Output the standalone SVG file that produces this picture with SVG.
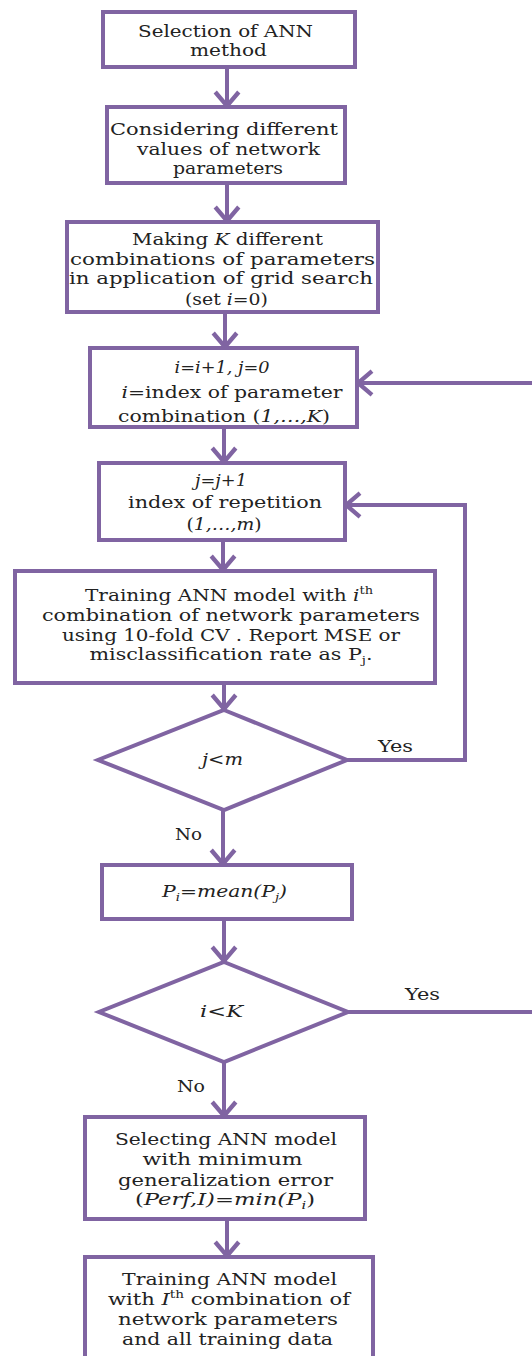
<svg xmlns="http://www.w3.org/2000/svg" width="532" height="1356" viewBox="0 0 532 1356">
<style>
.box{fill:#fff;stroke:#8064A2;stroke-width:4}
.ln{fill:none;stroke:#8064A2;stroke-width:4}
text{font-family:"DejaVu Serif","Liberation Serif",serif;font-size:17px;fill:#222;text-anchor:middle}
.it{font-style:italic}
.sm{font-size:11px}
</style>
<defs>
<marker id="ah" markerUnits="userSpaceOnUse" markerWidth="30" markerHeight="30" viewBox="-16 -14 20 28" refX="1" refY="0" orient="auto">
<path d="M -13 -11 L 0 0 L -13 11" fill="none" stroke="#8064A2" stroke-width="4"/>
</marker>
</defs>
<rect width="532" height="1356" fill="#fff"/>
<g id="connectors">
<path class="ln" d="M 227 67 V 107" marker-end="url(#ah)"/>
<path class="ln" d="M 227 183 V 222" marker-end="url(#ah)"/>
<path class="ln" d="M 225 312 V 348" marker-end="url(#ah)"/>
<path class="ln" d="M 224 427 V 463" marker-end="url(#ah)"/>
<path class="ln" d="M 223 540 V 571" marker-end="url(#ah)"/>
<path class="ln" d="M 224 683 V 710" marker-end="url(#ah)"/>
<path class="ln" d="M 223 810 V 865" marker-end="url(#ah)"/>
<path class="ln" d="M 224 919 V 962" marker-end="url(#ah)"/>
<path class="ln" d="M 224 1062 V 1117" marker-end="url(#ah)"/>
<path class="ln" d="M 227 1219 V 1257" marker-end="url(#ah)"/>
<path class="ln" d="M 347 760 H 465 V 505 H 345" marker-end="url(#ah)"/>
<path class="ln" d="M 348 1012 H 545 V 383 H 357" marker-end="url(#ah)"/>
<text x="395.5" y="752" textLength="35" lengthAdjust="spacingAndGlyphs">Yes</text>
<text x="188.5" y="840" textLength="27" lengthAdjust="spacingAndGlyphs">No</text>
<text x="422.5" y="1000" textLength="35" lengthAdjust="spacingAndGlyphs">Yes</text>
<text x="191" y="1092" textLength="28" lengthAdjust="spacingAndGlyphs">No</text>
</g>
<g id="n1">
<rect class="box" x="103" y="12" width="252" height="55"/>
<text x="225.5" y="37" textLength="175" lengthAdjust="spacingAndGlyphs">Selection of ANN</text>
<text x="228.5" y="56" textLength="77" lengthAdjust="spacingAndGlyphs">method</text>
</g>
<g id="n2">
<rect class="box" x="107" y="107" width="238" height="76"/>
<text x="224" y="135" textLength="228" lengthAdjust="spacingAndGlyphs">Considering different</text>
<text x="228.5" y="155" textLength="183" lengthAdjust="spacingAndGlyphs">values of network</text>
<text x="228" y="174" textLength="110" lengthAdjust="spacingAndGlyphs">parameters</text>
</g>
<g id="n3">
<rect class="box" x="67" y="222" width="311" height="90"/>
<text x="227.5" y="245" textLength="191" lengthAdjust="spacingAndGlyphs">Making <tspan class="it">K</tspan> different</text>
<text x="222.5" y="265" textLength="305" lengthAdjust="spacingAndGlyphs">combinations of parameters</text>
<text x="221" y="284" textLength="304" lengthAdjust="spacingAndGlyphs">in application of grid search</text>
<text x="226.5" y="305" textLength="83" lengthAdjust="spacingAndGlyphs">(set <tspan class="it">i</tspan>=0)</text>
</g>
<g id="n4">
<rect class="box" x="90" y="348" width="267" height="79"/>
<text class="it" x="222" y="373" textLength="95" lengthAdjust="spacingAndGlyphs">i=i+1, j=0</text>
<text x="232" y="398" textLength="221" lengthAdjust="spacingAndGlyphs"><tspan class="it">i</tspan>=index of parameter</text>
<text x="224" y="422" textLength="212" lengthAdjust="spacingAndGlyphs">combination (<tspan class="it">1,…,K</tspan>)</text>
</g>
<g id="n5">
<rect class="box" x="99" y="463" width="246" height="77"/>
<text class="it" x="221" y="486" textLength="52" lengthAdjust="spacingAndGlyphs">j=j+1</text>
<text x="225" y="508" textLength="194" lengthAdjust="spacingAndGlyphs">index of repetition</text>
<text x="224" y="530" textLength="75" lengthAdjust="spacingAndGlyphs">(<tspan class="it">1,…,m</tspan>)</text>
</g>
<g id="n6">
<rect class="box" x="15" y="571" width="420" height="112"/>
<text x="229" y="601" textLength="288" lengthAdjust="spacingAndGlyphs">Training ANN model with <tspan class="it">i</tspan><tspan class="sm" dy="-7">th</tspan></text>
<text x="231" y="621" textLength="378" lengthAdjust="spacingAndGlyphs">combination of network parameters</text>
<text x="231" y="641" textLength="338" lengthAdjust="spacingAndGlyphs">using 10-fold CV . Report MSE or</text>
<text x="231" y="660" textLength="283" lengthAdjust="spacingAndGlyphs">misclassification  rate as P<tspan class="sm" dy="4">j</tspan><tspan dy="-4">.</tspan></text>
</g>
<g id="d1">
<polygon class="box" points="224,710 347,760 224,810 98,760"/>
<text class="it" x="222.5" y="765" textLength="41" lengthAdjust="spacingAndGlyphs">j&lt;m</text>
</g>
<g id="n7">
<rect class="box" x="102" y="865" width="250" height="54"/>
<text class="it" x="224.5" y="897" textLength="125" lengthAdjust="spacingAndGlyphs">P<tspan class="sm" dy="4">i</tspan><tspan dy="-4">=mean(P</tspan><tspan class="sm" dy="4">j</tspan><tspan dy="-4">)</tspan></text>
</g>
<g id="d2">
<polygon class="box" points="224,962 348,1012 224,1062 99,1012"/>
<text class="it" x="221.5" y="1017" textLength="43" lengthAdjust="spacingAndGlyphs">i&lt;K</text>
</g>
<g id="n8">
<rect class="box" x="85" y="1117" width="280" height="102"/>
<text x="226" y="1145" textLength="222" lengthAdjust="spacingAndGlyphs">Selecting ANN model</text>
<text x="222.5" y="1165" textLength="160" lengthAdjust="spacingAndGlyphs">with minimum</text>
<text x="225.5" y="1186" textLength="215" lengthAdjust="spacingAndGlyphs">generalization error</text>
<text x="225" y="1205" textLength="180" lengthAdjust="spacingAndGlyphs">(<tspan class="it">Perf,I)=min(P</tspan><tspan class="it sm" dy="4">i</tspan><tspan dy="-4">)</tspan></text>
</g>
<g id="n9">
<rect class="box" x="85" y="1257" width="288" height="112"/>
<text x="229.5" y="1285" textLength="215" lengthAdjust="spacingAndGlyphs">Training ANN model</text>
<text x="229" y="1305" textLength="242" lengthAdjust="spacingAndGlyphs">with <tspan class="it">I</tspan><tspan class="sm" dy="-7">th</tspan><tspan dy="7"> combination of</tspan></text>
<text x="228" y="1325" textLength="220" lengthAdjust="spacingAndGlyphs">network parameters</text>
<text x="227.5" y="1345" textLength="211" lengthAdjust="spacingAndGlyphs">and all training data</text>
</g>
</svg>
